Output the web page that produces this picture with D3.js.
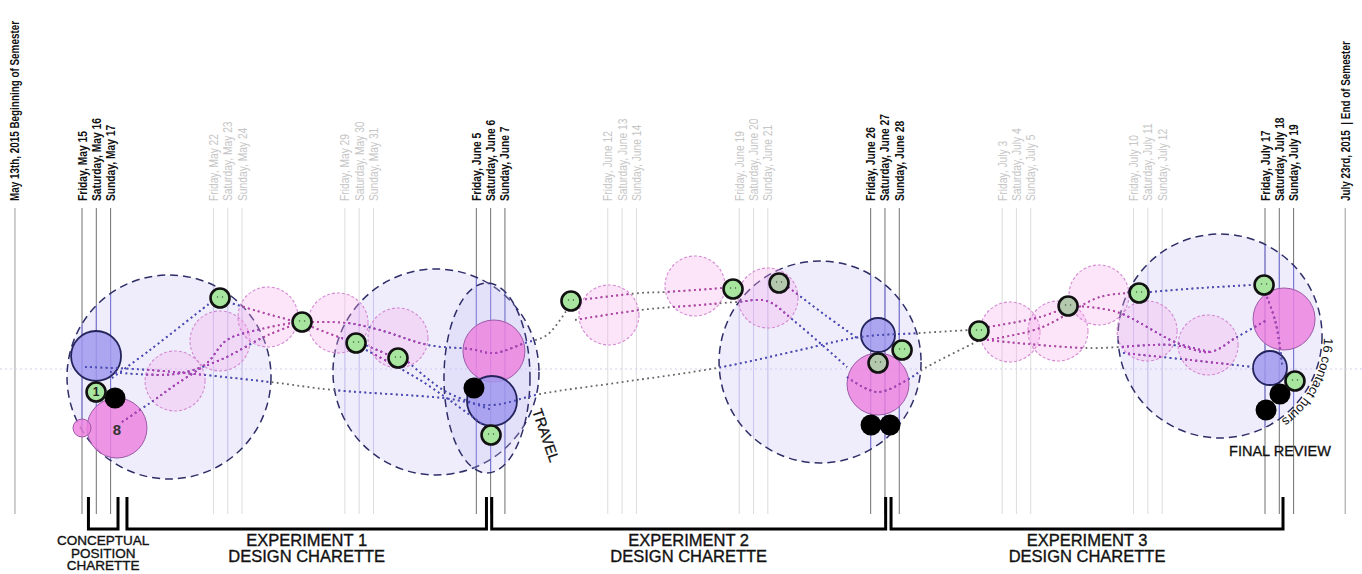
<!DOCTYPE html>
<html><head><meta charset="utf-8">
<script src="https://cdn.jsdelivr.net/npm/d3@7/dist/d3.min.js"></script>
<style>
body{margin:0;background:#fff;}
svg{display:block;}
</style></head><body>
<svg id="c" width="1362" height="574"></svg>
<script>
// ---------------- DATA ----------------
// week index 0 = weekend of May 15; each week holds Fri/Sat/Sun labels
const weekLabels = [
  ["Friday, May 15","Saturday, May 16","Sunday, May 17"],
  ["Friday, May 22","Saturday, May 23","Sunday, May 24"],
  ["Friday, May 29","Saturday, May 30","Sunday, May 31"],
  ["Friday, June 5","Saturday, June 6","Sunday, June 7"],
  ["Friday, June 12","Saturday, June 13","Sunday, June 14"],
  ["Friday, June 19","Saturday, June 20","Sunday, June 21"],
  ["Friday, June 26","Saturday, June 27","Sunday, June 28"],
  ["Friday, July 3","Saturday, July 4","Sunday, July 5"],
  ["Friday, July 10","Saturday, July 11","Sunday, July 12"],
  ["Friday, July 17","Saturday, July 18","Sunday, July 19"]
];
const keyWeeks = [0, 3, 6, 9];
const semesterMarks = [
  {w:-0.51, label:"May 13th, 2015 Beginning of Semester"},
  {w:9.61,  label:"July 23rd, 2015  | End of Semester"}
];
const phases = [
  {a:0.049, b:0.274, lines:["CONCEPTUAL","POSITION","CHARETTE"], small:true},
  {a:0.342, b:3.077, lines:["EXPERIMENT 1","DESIGN CHARETTE"]},
  {a:3.117, b:6.114, lines:["EXPERIMENT 2","DESIGN CHARETTE"]},
  {a:6.155, b:9.137, lines:["EXPERIMENT 3","DESIGN CHARETTE"]}
];
// circles: w = week position, v = vertical level, s = size
const bigCircles = [
  {w:0.662, v:-0.8, s:10.2},
  {w:2.693, v:-0.3, s:10.3},
  {w:5.615, v:0.7,  s:10.1},
  {w:8.658, v:3.3,  s:10.2}
];
const travelEllipse = [{w:3.081, v:-0.9, sx:4.3, sy:9.5}];
const pinkDashed = [
  {w:0.708,v:-1.2},{w:1.050,v:2.8},{w:1.415,v:5.2},{w:1.948,v:4.6},{w:2.404,v:3.1},
  {w:4.009,v:5.4},{w:4.664,v:8.3},{w:5.219,v:7.1},
  {w:7.060,v:3.7},{w:7.425,v:3.8},{w:7.737,v:7.4},{w:8.103,v:3.8},{w:8.567,v:2.4}
];
const pinkSolid = [
  {w:0.266,v:-5.9,s:3.0,label:"8"},
  {w:0.000,v:-5.9,s:0.9},
  {w:3.134,v:1.8,s:3.1},
  {w:6.056,v:-1.5,s:3.1},
  {w:9.145,v:5.0,s:3.1}
];
const blueSolid = [
  {w:0.107,v:1.3,s:2.5},{w:3.119,v:-3.2,s:2.5},{w:6.056,v:3.4,s:1.7},{w:9.038,v:0.1,s:1.7}
];
const blackDots = [
  {w:0.251,v:-2.9},{w:2.982,v:-1.9},{w:6.003,v:-5.6},{w:6.147,v:-5.6},{w:9.114,v:-2.5},{w:9.008,v:-4.1}
];
const greenDots = [
  {w:0.107,v:-2.3,label:"1"},{w:1.050,v:7.1},{w:1.674,v:4.7},{w:2.085,v:2.6},{w:2.404,v:1.1},
  {w:3.112,v:-6.6},{w:3.720,v:6.8},{w:4.953,v:8.0},{w:5.303,v:8.6,muted:true},
  {w:6.056,v:0.6,muted:true},{w:6.239,v:1.9},{w:6.824,v:3.8},{w:7.502,v:6.3,muted:true},
  {w:8.042,v:7.6},{w:8.993,v:8.4},{w:9.228,v:-1.2}
];
// dotted trails, [week, level]
const trails = [
  [[0.023,0.2],[0.517,-0.1],[1.430,-1.3],[1.910,-2.1],[2.747,-2.9],[3.119,-3.6],[3.484,-2.5],[4.169,-1.2],[4.869,0.2],[5.463,1.9],[5.919,3.2],[6.376,3.6],[6.756,3.9]],
  [[0.228,-0.9],[0.517,1.9],[0.974,6.6]],
  [[0.304,-5.3],[0.517,-3.4],[0.708,-1.6],[0.951,0.6],[1.103,2.9],[1.331,3.9],[1.636,4.7]],
  [[1.111,6.7],[1.331,5.8],[1.636,4.7]],
  [[0.213,-0.3],[0.708,-0.5],[1.050,0.9],[1.415,3.4],[1.674,4.7]],
  [[1.750,4.7],[2.017,4.6],[2.267,3.9],[2.632,2.4],[2.952,2.0],[3.134,1.6],[3.370,2.6],[3.538,3.4],[3.698,6.1]],
  [[1.750,4.2],[2.017,2.9],[2.153,2.4],[2.366,1.2]],
  [[2.480,0.7],[2.747,-2.1],[2.952,-3.3],[3.119,-4.1]],
  [[2.161,1.9],[2.571,-1.1],[2.952,-4.6],[3.104,-6.1]],
  [[3.789,6.9],[4.245,7.6],[4.436,7.7],[4.877,8.1]],
  [[3.751,4.9],[4.245,5.9],[4.702,6.4],[4.983,6.7],[5.211,6.8],[5.409,4.9],[5.820,0.2]],
  [[5.371,8.2],[5.653,5.4],[5.896,3.1]],
  [[5.820,-0.8],[6.048,-2.3],[6.277,-1.1],[6.414,0.1],[6.833,2.9]],
  [[6.893,4.2],[7.289,5.2],[7.494,6.2]],
  [[6.885,2.9],[7.289,4.1],[7.745,7.2],[7.996,7.6]],
  [[6.885,2.9],[7.646,2.1],[8.300,2.4],[8.582,1.7],[8.787,3.2],[9.015,4.9]],
  [[7.570,6.3],[7.874,5.7],[8.331,2.6],[8.582,1.7]],
  [[8.125,7.7],[8.506,8.1],[8.909,8.4]],
  [[7.920,1.6],[8.430,0.9],[8.909,0.2]],
  [[9.015,7.2],[9.076,4.9],[9.114,2.2],[9.130,0.4]]
];
const annotations = [
  {w:3.492, v:-6.8, text:"TRAVEL", rot:71},
  {w:9.114, v:-8.7, text:"FINAL REVIEW", rot:0}
];
const hoursNote = "16 contact hours";

// ---------------- SCALES ----------------
const svg = d3.select("#c");
const x = d3.scaleLinear().domain([0, 9]).range([82, 1265]);
const y = d3.scaleLinear().domain([-15, 15]).range([519, 219]);
const r = d3.scaleLinear().domain([0, 10]).range([0, 100]);
const DAY = 0.1088;
const LINE_TOP = 208, LINE_BOTTOM = 514, LABEL_Y = 201;
const sans = "'Liberation Sans',Arial,sans-serif";
const NARROW = 0.82; // horizontal compression emulating a narrow face

function condense(sel, k){
  sel.each(function(){
    const len = this.getComputedTextLength();
    d3.select(this).attr("textLength", len*k).attr("lengthAdjust","spacingAndGlyphs");
  });
}

const days = [];
weekLabels.forEach((lab, wi) => lab.forEach((t, di) =>
  days.push({pos: wi + di*DAY, label: t, key: keyWeeks.includes(wi)})));

// ---------------- CLIPS ----------------
const defs = svg.append("defs");
const lav = defs.append("clipPath").attr("id","lav");
lav.selectAll("circle").data(bigCircles).join("circle")
  .attr("cx",d=>x(d.w)).attr("cy",d=>y(d.v)).attr("r",d=>r(d.s));
lav.selectAll("ellipse").data(travelEllipse).join("ellipse")
  .attr("cx",d=>x(d.w)).attr("cy",d=>y(d.v)).attr("rx",d=>r(d.sx)).attr("ry",d=>r(d.sy));
const pk = defs.append("clipPath").attr("id","pink");
pk.selectAll("circle").data(pinkDashed.map(d=>({...d,s:3.0})).concat(pinkSolid)).join("circle")
  .attr("cx",d=>x(d.w)).attr("cy",d=>y(d.v)).attr("r",d=>r(d.s));

// ---------------- VERTICAL DAY LINES ----------------
function dayLines(g, lightCol, keyCol, semCol){
  g.selectAll("line.d").data(days).join("line").attr("class","d")
    .attr("x1",d=>x(d.pos)).attr("x2",d=>x(d.pos))
    .attr("y1",LINE_TOP).attr("y2",LINE_BOTTOM)
    .attr("stroke",d=>d.key?keyCol:lightCol).attr("stroke-width",1);
  g.selectAll("line.s").data(semesterMarks).join("line").attr("class","s")
    .attr("x1",d=>x(d.w)).attr("x2",d=>x(d.w))
    .attr("y1",LINE_TOP).attr("y2",LINE_BOTTOM)
    .attr("stroke",semCol).attr("stroke-width",1);
}
dayLines(svg.append("g"), "#dcdcdc", "#707070", "#9a9a9a");
dayLines(svg.append("g").attr("clip-path","url(#lav)"), "#cdc9f0", "#5a5ad6", "#9a9a9a");

// midline
svg.append("line").attr("x1",0).attr("x2",1362).attr("y1",y(0)).attr("y2",y(0))
  .attr("stroke","#d2cfee").attr("stroke-width",1).attr("stroke-dasharray","2,3");

// ---------------- DATE LABELS ----------------
const dl = svg.append("g").selectAll("text").data(days).join("text")
  .attr("transform",d=>`translate(${x(d.pos)},${LABEL_Y}) rotate(-90)`)
  .attr("dy","0.36em")
  .style("font-family",sans).style("font-size","12.5px")
  .style("font-weight",d=>d.key?"bold":"normal")
  .attr("fill",d=>d.key?"#111":"#c6c6c6")
  .text(d=>d.label);
condense(dl, NARROW);
const sl = svg.append("g").selectAll("text").data(semesterMarks).join("text")
  .attr("transform",d=>`translate(${x(d.w)},${LABEL_Y}) rotate(-90)`)
  .attr("dy","0.36em")
  .style("font-family",sans).style("font-size","12.5px").style("font-weight","bold")
  .style("white-space","pre")
  .attr("fill","#111").text(d=>d.label);
condense(sl, 0.79);

// ---------------- BIG CIRCLES ----------------
const gBig = svg.append("g");
gBig.selectAll("circle").data(bigCircles).join("circle")
  .attr("cx",d=>x(d.w)).attr("cy",d=>y(d.v)).attr("r",d=>r(d.s))
  .attr("fill","rgba(196,190,246,0.28)").attr("stroke","#2e2e68").attr("stroke-width",1.5)
  .attr("stroke-dasharray","8,5");
gBig.selectAll("ellipse").data(travelEllipse).join("ellipse")
  .attr("cx",d=>x(d.w)).attr("cy",d=>y(d.v)).attr("rx",d=>r(d.sx)).attr("ry",d=>r(d.sy))
  .attr("fill","rgba(196,190,246,0.28)").attr("stroke","#2e2e68").attr("stroke-width",1.5)
  .attr("stroke-dasharray","8,5");

// ---------------- PINK DASHED ----------------
svg.append("g").selectAll("circle").data(pinkDashed).join("circle")
  .attr("cx",d=>x(d.w)).attr("cy",d=>y(d.v)).attr("r",r(3.0))
  .attr("fill","rgba(246,170,236,0.32)").attr("stroke","#d48ad2").attr("stroke-width",1.1)
  .attr("stroke-dasharray","3,2");

// ---------------- SOLID PINK & BLUE ----------------
svg.append("g").selectAll("circle").data(pinkSolid).join("circle")
  .attr("cx",d=>x(d.w)).attr("cy",d=>y(d.v)).attr("r",d=>r(d.s))
  .attr("fill","rgba(238,128,222,0.82)").attr("stroke","#9b5aa8").attr("stroke-width",1);
svg.append("g").selectAll("circle").data(blueSolid).join("circle")
  .attr("cx",d=>x(d.w)).attr("cy",d=>y(d.v)).attr("r",d=>r(d.s))
  .attr("fill","rgba(160,152,236,0.85)").attr("stroke","#23235c").attr("stroke-width",1.8);

// ---------------- TRAILS ----------------
const line = d3.line().x(d=>x(d[0])).y(d=>y(d[1])).curve(d3.curveCatmullRom.alpha(0.5));
function drawTrails(g, col){
  g.selectAll("path").data(trails).join("path").attr("d",line)
    .attr("fill","none").attr("stroke",col).attr("stroke-width",1.8)
    .attr("stroke-dasharray","1.8,3.4");
}
drawTrails(svg.append("g"), "#666");
drawTrails(svg.append("g").attr("clip-path","url(#lav)"), "#4848c8");
drawTrails(svg.append("g").attr("clip-path","url(#pink)"), "#c23cb6");

// ---------------- BLACK & GREEN ----------------
svg.append("g").selectAll("circle").data(blackDots).join("circle")
  .attr("cx",d=>x(d.w)).attr("cy",d=>y(d.v)).attr("r",r(1.05)).attr("fill","#000");
const gG = svg.append("g").selectAll("g").data(greenDots).join("g")
  .attr("transform",d=>`translate(${x(d.w)},${y(d.v)})`);
gG.append("circle").attr("r",r(0.95))
  .attr("fill",d=>d.muted?"#b3c8ad":"#a8e6a0").attr("stroke","#111").attr("stroke-width",2.6);
gG.filter(d=>!d.label).selectAll("circle.dot").data([-2.5,2.5]).join("circle").attr("class","dot")
  .attr("cx",d=>d).attr("cy",-1).attr("r",0.7).attr("fill","#3a5a3a");
gG.filter(d=>d.label).append("text").attr("text-anchor","middle").attr("dy","0.36em")
  .style("font-family",sans).style("font-size","12px").style("font-weight","bold")
  .attr("fill","#222").text(d=>d.label);

svg.append("g").selectAll("text").data(pinkSolid.filter(d=>d.label)).join("text")
  .attr("x",d=>x(d.w)).attr("y",d=>y(d.v)).attr("dy","0.45em").attr("text-anchor","middle")
  .style("font-family",sans).style("font-size","15px").style("font-weight","bold")
  .attr("fill","#333").text(d=>d.label);

// ---------------- ANNOTATIONS ----------------
svg.append("g").selectAll("text").data(annotations).join("text")
  .attr("transform",d=>`translate(${x(d.w)},${y(d.v)}) rotate(${d.rot})`)
  .attr("text-anchor","middle")
  .style("font-family",sans).style("font-size","14.5px").attr("fill","#111")
  .attr("stroke","#111").attr("stroke-width",0.3)
  .text(d=>d.text);

// "16 contact hours" along last big circle
const c4 = bigCircles[3];
const R = r(c4.s) + 2, cx4 = x(c4.w), cy4 = y(c4.v);
const a0 = 1*Math.PI/180, a1 = 60*Math.PI/180;
defs.append("path").attr("id","arc4")
  .attr("d",`M${cx4+R*Math.cos(a0)},${cy4+R*Math.sin(a0)} A${R},${R} 0 0 1 ${cx4+R*Math.cos(a1)},${cy4+R*Math.sin(a1)}`);
svg.append("text").style("font-family",sans).style("font-size","13px").attr("fill","#111")
  .append("textPath").attr("href","#arc4").text(hoursNote);

// ---------------- PHASE BRACKETS ----------------
const BR_TOP = 497, BR_BOT = 529;
const gP = svg.append("g");
gP.selectAll("path").data(phases).join("path")
  .attr("d",d=>`M${x(d.a)},${BR_TOP}V${BR_BOT}H${x(d.b)}V${BR_TOP}`)
  .attr("fill","none").attr("stroke","#000").attr("stroke-width",3);
gP.selectAll("text").data(phases).join("text")
  .attr("x",d=>x((d.a+d.b)/2)).attr("text-anchor","middle")
  .style("font-family",sans).style("font-size",d=>d.small?"13.5px":"16.5px").attr("fill","#111")
  .attr("stroke","#111").attr("stroke-width",0.35)
  .each(function(d){
    const t = d3.select(this);
    const base = d.small?545:546, step = d.small?12.5:16;
    d.lines.forEach((l,i)=>t.append("tspan").attr("x",x((d.a+d.b)/2)).attr("y",base+i*step).text(l));
  });
</script>
</body></html>
